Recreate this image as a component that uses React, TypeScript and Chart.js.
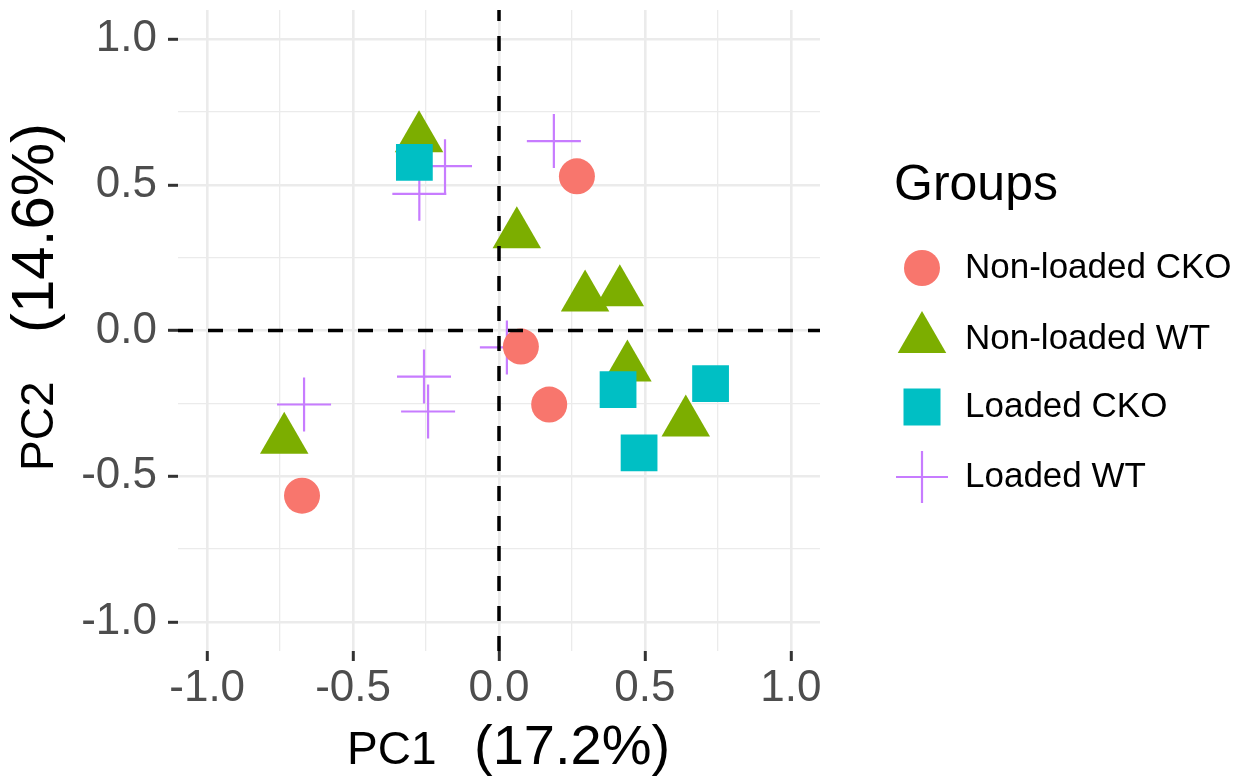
import React, { useEffect, useRef } from 'react';
import { Chart, registerables } from 'chart.js';

Chart.register(...registerables);

const FONT = '"Liberation Sans", Arial, Helvetica, sans-serif';

// ---- data ----
const groups = ['Non-loaded CKO', 'Non-loaded WT', 'Loaded CKO', 'Loaded WT'];
const groupColors = ['#F8766D', '#7CAE00', '#00BFC4', '#C77CFF'];
const groupShapes = ['circle', 'triangle', 'rect', 'cross'];

const nonLoadedCKO_PC1 = [0.267, 0.075, 0.172, -0.675];
const nonLoadedCKO_PC2 = [0.529, -0.055, -0.254, -0.567];

const nonLoadedWT_PC1 = [-0.274, 0.061, 0.295, 0.414, 0.44, 0.64, -0.736];
const nonLoadedWT_PC2 = [0.66, 0.33, 0.113, 0.131, -0.127, -0.316, -0.375];

const loadedCKO_PC1 = [-0.29, 0.408, 0.48, 0.725];
const loadedCKO_PC2 = [0.577, -0.203, -0.42, -0.182];

const loadedWT_PC1 = [0.188, -0.185, -0.273, 0.027, -0.668, -0.257, -0.243];
const loadedWT_PC2 = [0.65, 0.564, 0.469, -0.058, -0.254, -0.158, -0.278];

const axisMin = -1.1;
const axisMax = 1.1;
const majorTickValues = [-1, -0.5, 0, 0.5, 1];
const majorTickLabels = ['-1.0', '-0.5', '0.0', '0.5', '1.0'];
const minorTickValues = [-0.75, -0.25, 0.25, 0.75];

const xTitleParts = ['PC1', '(17.2%)'];
const yTitleParts = ['PC2', '(14.6%)'];
const legendTitle = 'Groups';

const toPoints = (xs: number[], ys: number[]) => xs.map((x, i) => ({ x, y: ys[i] }));

const isMajor = (v: number) => majorTickValues.some((m) => Math.abs(m - v) < 1e-9);
const labelFor = (v: number) => {
  const idx = majorTickValues.findIndex((m) => Math.abs(m - v) < 1e-9);
  return idx >= 0 ? majorTickLabels[idx] : '';
};
const allTicks = [...majorTickValues, ...minorTickValues].sort((a, b) => a - b);

function drawMarker(ctx: CanvasRenderingContext2D, shape: string, x: number, y: number, color: string) {
  ctx.save();
  ctx.fillStyle = color;
  ctx.strokeStyle = color;
  ctx.beginPath();
  if (shape === 'circle') {
    ctx.arc(x, y, 18, 0, Math.PI * 2);
    ctx.fill();
  } else if (shape === 'triangle') {
    const r = 28;
    ctx.moveTo(x, y - r);
    ctx.lineTo(x + r * 0.866, y + r * 0.5);
    ctx.lineTo(x - r * 0.866, y + r * 0.5);
    ctx.closePath();
    ctx.fill();
  } else if (shape === 'rect') {
    const h = 18.5;
    ctx.rect(x - h, y - h, 2 * h, 2 * h);
    ctx.fill();
  } else {
    const r = 26;
    ctx.lineWidth = 2.2;
    ctx.moveTo(x - r, y);
    ctx.lineTo(x + r, y);
    ctx.moveTo(x, y - r);
    ctx.lineTo(x, y + r);
    ctx.stroke();
  }
  ctx.restore();
}

const legendPlugin = {
  id: 'groupsLegend',
  afterDraw(chart: any) {
    const ctx = chart.ctx as CanvasRenderingContext2D;
    const itemY = [268, 339, 407, 477];
    ctx.save();
    ctx.fillStyle = '#000';
    ctx.textAlign = 'left';
    ctx.textBaseline = 'alphabetic';
    ctx.font = `50px ${FONT}`;
    ctx.fillText(legendTitle, 894, 200);
    groups.forEach((g, i) => {
      drawMarker(ctx, groupShapes[i], 922, itemY[i], groupColors[i]);
      ctx.fillStyle = '#000';
      ctx.font = `35px ${FONT}`;
      ctx.textBaseline = 'middle';
      ctx.fillText(g, 965, itemY[i]);
    });
    ctx.restore();
  },
};

const axisTitlePlugin = {
  id: 'axisTitles',
  afterDraw(chart: any) {
    const ctx = chart.ctx as CanvasRenderingContext2D;
    ctx.save();
    ctx.fillStyle = '#000';
    ctx.textAlign = 'left';
    ctx.textBaseline = 'alphabetic';
    // x axis title
    ctx.font = `46px ${FONT}`;
    ctx.fillText(xTitleParts[0], 347, 764);
    ctx.font = `56px ${FONT}`;
    ctx.fillText(xTitleParts[1], 474, 764);
    // y axis title (rotated)
    ctx.translate(53, 0);
    ctx.rotate(-Math.PI / 2);
    ctx.font = `46px ${FONT}`;
    ctx.fillText(yTitleParts[0], -471, 0);
    ctx.font = `60px ${FONT}`;
    ctx.fillText(yTitleParts[1], -333, 0);
    ctx.restore();
  },
};

function axisOptions(isX: boolean) {
  return {
    type: 'linear',
    min: axisMin,
    max: axisMax,
    afterBuildTicks: (scale: any) => {
      scale.ticks = allTicks.map((v) => ({ value: v }));
    },
    afterFit: (scale: any) => {
      if (isX) scale.height = 129;
      else scale.width = 178;
      scale.paddingTop = 0;
      scale.paddingBottom = 0;
      scale.paddingLeft = 0;
      scale.paddingRight = 0;
    },
    border: { display: false },
    grid: {
      color: '#EBEBEB',
      lineWidth: (c: any) => (c.tick && isMajor(c.tick.value) ? 2.6 : 1.3),
      drawTicks: true,
      tickLength: 10,
      tickWidth: 3,
      tickColor: (c: any) => (c.tick && isMajor(c.tick.value) ? '#333333' : 'rgba(0,0,0,0)'),
    },
    ticks: {
      includeBounds: false,
      autoSkip: false,
      maxRotation: 0,
      minRotation: 0,
      padding: isX ? 1 : 11,
      color: '#4D4D4D',
      font: { family: FONT, size: 44 },
      callback: (v: any) => labelFor(Number(v)),
    },
    title: { display: false },
  };
}

export default function App() {
  const canvasRef = useRef<HTMLCanvasElement | null>(null);

  useEffect(() => {
    if (!canvasRef.current) return;
    const chart = new Chart(canvasRef.current, {
      type: 'scatter',
      data: {
        datasets: [
          {
            label: 'hline',
            type: 'line',
            data: [
              { x: axisMin, y: 0 },
              { x: axisMax, y: 0 },
            ],
            borderColor: '#000000',
            borderWidth: 3.5,
            borderDash: [15, 15],
            pointRadius: 0,
            showLine: true,
            fill: false,
            order: 0,
          },
          {
            label: 'vline',
            type: 'line',
            data: [
              { x: 0, y: axisMin },
              { x: 0, y: axisMax },
            ],
            borderColor: '#000000',
            borderWidth: 3.5,
            borderDash: [15, 15],
            pointRadius: 0,
            showLine: true,
            fill: false,
            order: 0,
          },
          {
            label: groups[2],
            data: toPoints(loadedCKO_PC1, loadedCKO_PC2),
            pointStyle: 'rect',
            pointRadius: 26,
            pointHoverRadius: 26,
            backgroundColor: groupColors[2],
            borderColor: groupColors[2],
            borderWidth: 0,
            order: 1,
          },
          {
            label: groups[0],
            data: toPoints(nonLoadedCKO_PC1, nonLoadedCKO_PC2),
            pointStyle: 'circle',
            pointRadius: 18,
            pointHoverRadius: 18,
            backgroundColor: groupColors[0],
            borderColor: groupColors[0],
            borderWidth: 0,
            order: 2,
          },
          {
            label: groups[3],
            data: toPoints(loadedWT_PC1, loadedWT_PC2),
            pointStyle: 'cross',
            pointRadius: 27,
            pointHoverRadius: 27,
            backgroundColor: groupColors[3],
            borderColor: groupColors[3],
            borderWidth: 2.2,
            order: 3,
          },
          {
            label: groups[1],
            data: toPoints(nonLoadedWT_PC1, nonLoadedWT_PC2),
            pointStyle: 'triangle',
            pointRadius: 28,
            pointHoverRadius: 28,
            backgroundColor: groupColors[1],
            borderColor: groupColors[1],
            borderWidth: 0,
            order: 4,
          },
        ] as any,
      },
      options: {
        animation: false,
        responsive: false,
        devicePixelRatio: 1,
        events: [],
        layout: { autoPadding: false, padding: { top: 10, right: 419, bottom: 0, left: 0 } },
        plugins: {
          legend: { display: false },
          tooltip: { enabled: false },
        },
        scales: {
          x: axisOptions(true) as any,
          y: axisOptions(false) as any,
        },
      },
      plugins: [legendPlugin, axisTitlePlugin],
    });
    return () => chart.destroy();
  }, []);

  return (
    <div style={{ position: 'fixed', left: 0, top: 0, width: 1239, height: 780, background: '#fff' }}>
      <canvas ref={canvasRef} width={1239} height={780} />
    </div>
  );
}
